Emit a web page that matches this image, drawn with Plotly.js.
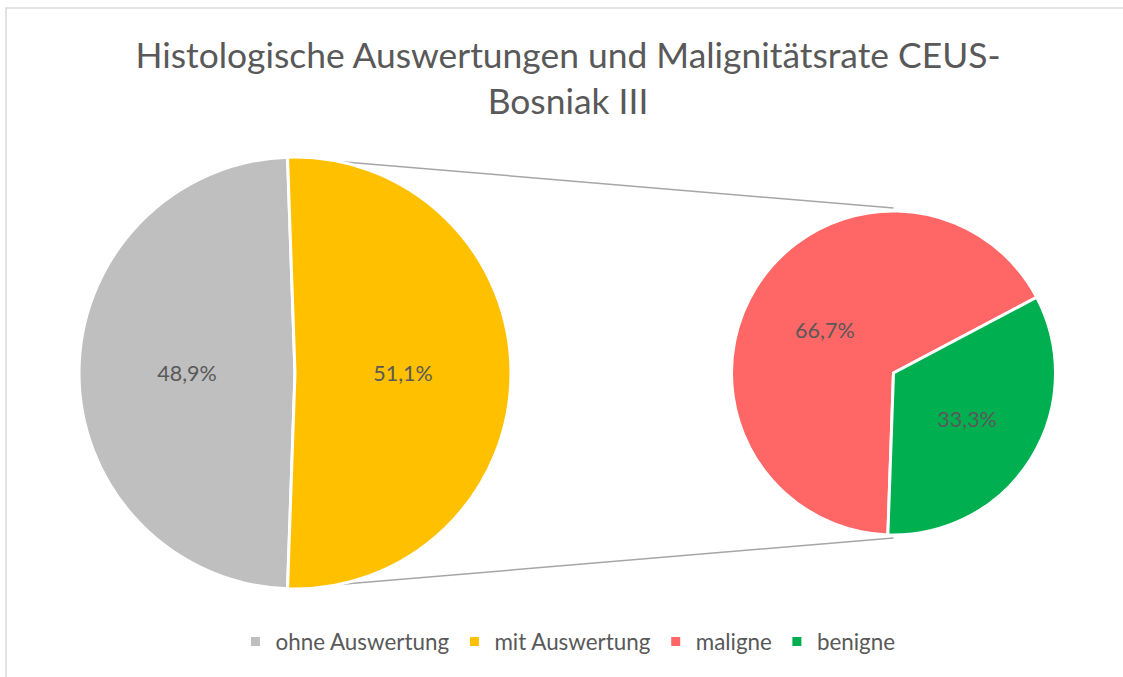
<!DOCTYPE html>
<html>
<head>
<meta charset="utf-8">
<script src="https://cdn.plot.ly/plotly-3.0.1.min.js"></script>
<style>html,body{margin:0;padding:0;background:#fff;}#chart{width:1123px;height:677px;}</style>
</head>
<body>
<div id="chart"></div>
<script>
// ---- data ----
const mainLabels = ["ohne Auswertung", "mit Auswertung"];
const mainValues = [48.9, 51.1];
const mainColors = ["#BFBFBF", "#FFC000"];
const subLabels = ["maligne", "benigne"];
const subValues = [66.7, 33.3];
const subColors = ["#FF6666", "#00B050"];
const titleText = "Histologische Auswertungen und Malignitätsrate CEUS-<br>Bosniak III";

// ---- layout geometry (pixels) ----
const W = 1123, H = 677;
const P1 = {cx: 295, cy: 373, r: 216};
const P2 = {cx: 893.5, cy: 373, r: 162};
const FONT = "Lato, 'Open Sans', sans-serif";
const TXT = "#595959";

function dom(p) {
  return {x: [(p.cx - p.r) / W, (p.cx + p.r) / W], y: [1 - (p.cy + p.r) / H, 1 - (p.cy - p.r) / H]};
}
const total1 = mainValues.reduce((a, b) => a + b, 0);
const yellowShare = mainValues[1] / total1;
// second slice (the one that is broken out) centred at 3 o'clock
const rot1 = 90 + 180 * yellowShare;
const rot2 = 182;

const trace1 = {
  type: "pie", labels: mainLabels, values: mainValues, sort: false,
  direction: "clockwise", rotation: rot1, domain: dom(P1),
  marker: {colors: mainColors, line: {color: "#ffffff", width: 3}},
  texttemplate: "%{percent:.1%}", textposition: "inside", insidetextorientation: "horizontal",
  textfont: {family: FONT, size: 21.5, color: TXT}, hoverinfo: "label+percent"
};
const trace2 = {
  type: "pie", labels: subLabels, values: subValues, sort: false,
  direction: "clockwise", rotation: rot2, domain: dom(P2),
  marker: {colors: subColors, line: {color: "#ffffff", width: 3}},
  texttemplate: "%{percent:.1%}", textposition: "inside", insidetextorientation: "horizontal",
  textfont: {family: FONT, size: 21.5, color: TXT}, hoverinfo: "label+percent"
};

// connector lines from the edges of the broken-out slice to the second pie
function edgePt(p, angDeg) {
  const a = angDeg * Math.PI / 180;
  return [p.cx + p.r * Math.sin(a), p.cy - p.r * Math.cos(a)];
}
const topL = edgePt(P1, rot1 + 360 * (mainValues[0] / total1));
const botL = edgePt(P1, rot1);
const topR = [P2.cx, P2.cy - P2.r - 3];
const botR = [P2.cx, P2.cy + P2.r + 3];
function px2paper(pt) { return [pt[0] / W, 1 - pt[1] / H]; }
function lineShape(a, b) {
  const A = px2paper(a), B = px2paper(b);
  return {type: "line", xref: "paper", yref: "paper", x0: A[0], y0: A[1], x1: B[0], y1: B[1],
          line: {color: "#A6A6A6", width: 1.5}, layer: "below"};
}

const layout = {
  width: W, height: H,
  margin: {l: 0, r: 0, t: 0, b: 0},
  paper_bgcolor: "#ffffff",
  separators: ",.",
  font: {family: FONT, color: TXT},
  title: {text: titleText, font: {family: FONT, size: 35.4, color: TXT},
          x: 568 / W, xanchor: "center", y: 1 - 68 / H, yanchor: "top", xref: "paper", yref: "container"},
  showlegend: true,
  legend: {orientation: "h", x: 568 / W, xanchor: "center", y: 1 - 642 / H, yanchor: "middle",
           font: {family: FONT, size: 22.4, color: TXT}, traceorder: "normal"},
  shapes: [
    {type: "rect", xref: "paper", yref: "paper", x0: 6 / W, y0: -0.05, x1: 1.05, y1: 1 - 8 / H,
     line: {color: "#D9D9D9", width: 1.5}, fillcolor: "rgba(0,0,0,0)", layer: "below"},
    lineShape(topL, topR),
    lineShape(botL, botR)
  ]
};

Plotly.newPlot("chart", [trace1, trace2], layout, {displayModeBar: false, staticPlot: true});
</script>
</body>
</html>
